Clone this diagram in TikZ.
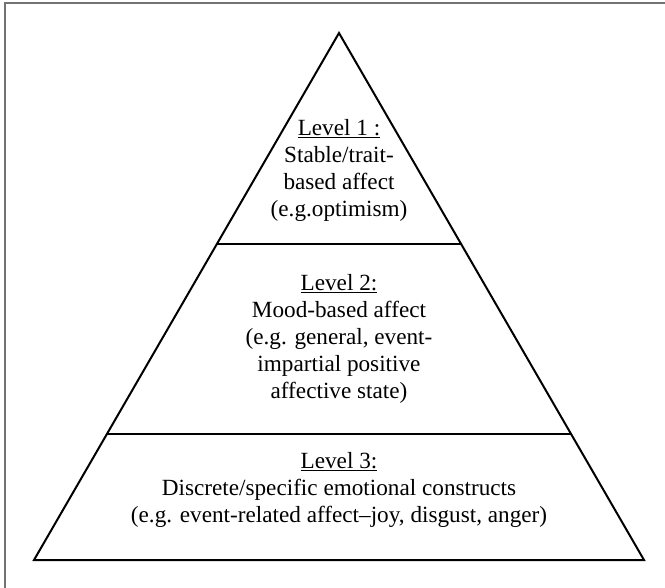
\documentclass[tikz,border=0pt]{standalone}
\usepackage{fontspec}
\setmainfont{Liberation Serif}
\usetikzlibrary{calc}
\begin{document}
\begin{tikzpicture}[x=0.75pt,y=-0.75pt,
  pyr/.style={draw=black,line width=1.5pt,line join=miter},
  div/.style={draw=black,line width=1.5pt},
  frameline/.style={draw=black!55,line width=1.2pt},
  lbl/.style={align=center,anchor=north,inner sep=0pt,font=\fontsize{17.4pt}{20.25pt}\selectfont}]
\useasboundingbox (0,0) rectangle (665,587);
% partial outer frame (top and left edges)
\coordinate (FC) at (5,3);
\coordinate (FR) at (666,3);
\coordinate (FB) at (5,588);
\draw[frameline] (FB) -- (FC) -- (FR);
% pyramid
\coordinate (A) at (339,33);
\coordinate (L) at (34,560);
\coordinate (R) at (644,560);
\draw[pyr] (A) -- (L) -- (R) -- cycle;
% dividers
\coordinate (d1l) at ($(A)!0.4004!(L)$);
\coordinate (d1r) at ($(A)!0.4004!(R)$);
\coordinate (d2l) at ($(A)!0.7609!(L)$);
\coordinate (d2r) at ($(A)!0.7609!(R)$);
\draw[div] (d1l) -- (d1r);
\draw[div] (d2l) -- (d2r);
% labels
\node[lbl] (lvl1) at (339,119) {\underline{Level 1 :}\\Stable/trait-\\based affect\\(e.g.optimism)};
\node[lbl] (lvl2) at (339,274) {\underline{Level 2:}\\Mood-based affect\\(e.g. general, event-\\impartial positive\\affective state)};
\node[lbl] (lvl3) at (339,452) {\underline{Level 3:}\\Discrete/specific emotional constructs\\(e.g. event-related affect–joy, disgust, anger)};
\end{tikzpicture}
\end{document}
